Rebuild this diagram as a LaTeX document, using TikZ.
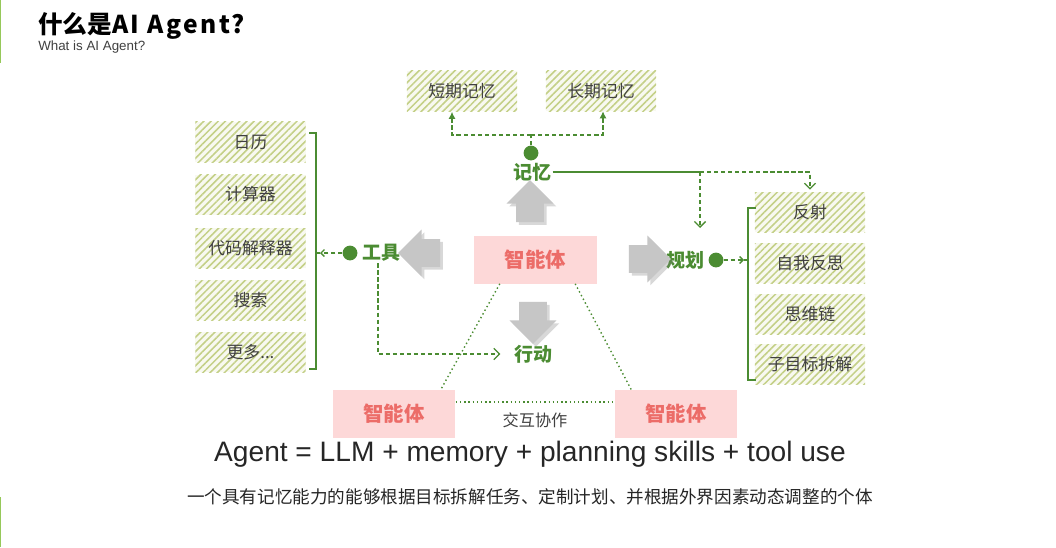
\documentclass[tikz,border=0pt]{standalone}
\usepackage{fontspec}
\setmainfont{Noto Sans CJK SC}
\newfontfamily\latinfont{Liberation Sans}
\usetikzlibrary{shapes.arrows, arrows.meta, positioning, calc, patterns.meta, shadows}
\definecolor{agentgreen}{RGB}{75, 140, 50}
\definecolor{hatchline}{RGB}{196, 208, 135}
\definecolor{hatchbg}{RGB}{248, 249, 240}
\definecolor{agentpink}{RGB}{253, 216, 216}
\definecolor{agentred}{RGB}{236, 108, 104}
\definecolor{arrowgray}{RGB}{198, 198, 198}
\definecolor{textgray}{RGB}{64, 64, 64}
\definecolor{sidebar}{RGB}{150, 200, 90}

\begin{document}
\begin{tikzpicture}[x=0.025cm, y=-0.025cm,
  hatchbox/.style={minimum width=2.75cm, minimum height=1cm, inner sep=0pt,
    preaction={fill=hatchbg}, pattern={Lines[angle=45, distance=3.6pt, line width=1.1pt]},
    pattern color=hatchline, text=textgray, font=\fontsize{12}{14}\selectfont},
  agentbox/.style={fill=agentpink, minimum width=3.07cm, minimum height=1.2cm, inner sep=0pt,
    text=agentred, font=\bfseries\fontsize{14.5}{16}\selectfont},
  greenlabel/.style={text=agentgreen, inner sep=1pt, font=\bfseries\fontsize{13.5}{15}\selectfont},
  gdot/.style={circle, fill=agentgreen, minimum size=0.37cm, inner sep=0pt},
  bigarrow/.style={single arrow, fill=arrowgray, draw=none, inner sep=0.34cm,
    single arrow head extend=0.24cm, minimum height=1.05cm,
    drop shadow={opacity=0.3, shadow xshift=2pt, shadow yshift=-2pt}},
  dashlink/.style={draw=agentgreen, line width=0.9pt, dash pattern=on 3pt off 2pt},
  dotlink/.style={draw=agentgreen, line width=1pt, dotted},
  bracket/.style={draw=agentgreen, line width=1pt},
  barb/.style={-{Straight Barb[length=4pt, width=8pt]}}
]
  \fill[white] (0,0) rectangle (1056,547);
  \useasboundingbox (0,0) rectangle (1056,547);
  \fill[sidebar] (0,0) rectangle (1.5,63);
  \fill[sidebar] (0,497) rectangle (1.5,547);

  % title
  \node[anchor=west, inner sep=0pt, font=\bfseries\fontsize{17.5}{20}\selectfont] (title) at (38,26)
    {什么是{\addfontfeature{LetterSpace=10}AI Agent?}};
  \node[anchor=west, inner sep=0pt, text=textgray, font=\latinfont\fontsize{9.5}{11}\selectfont] (subtitle) at (38,47)
    {What is AI Agent?};

  % agents
  \node[agentbox] (agentC) at (535.5,259.5) {智能体};
  \node[agentbox] (agentL) at (394,414) {智能体};
  \node[agentbox] (agentR) at (676,414) {智能体};

  % memory
  \node[hatchbox] (stm) at (462,91) {短期记忆};
  \node[hatchbox] (ltm) at (601,91) {长期记忆};
  \node[gdot] (dotMem) at (531,153) {};
  \node[greenlabel] (mem) at (532,172) {记忆};

  % tools
  \node[hatchbox] (cal) at (250.5,142) {日历};
  \node[hatchbox] (calcu) at (250.5,194.5) {计算器};
  \node[hatchbox] (interp) at (250.5,248) {代码解释器};
  \node[hatchbox] (search) at (250.5,300) {搜索};
  \node[hatchbox] (more) at (250.5,352) {更多...};
  \node[gdot] (dotTool) at (350,253) {};
  \node[greenlabel, anchor=west] (tool) at (361,253) {工具};

  % planning
  \node[hatchbox] (refl) at (810,212) {反射};
  \node[hatchbox] (selfr) at (810,263) {自我反思};
  \node[hatchbox] (cot) at (810,314) {思维链};
  \node[hatchbox] (subg) at (810,364) {子目标拆解};
  \node[greenlabel, anchor=east] (plan) at (706,260) {规划};
  \node[gdot] (dotPlan) at (716,260) {};

  % action
  \node[greenlabel] (act) at (533,354) {行动};

  % big gray arrows
  \node[bigarrow, shape border rotate=90] (arrUp) at (530,208) {};
  \node[bigarrow, shape border rotate=180] (arrLeft) at (426,253) {};
  \node[bigarrow, shape border rotate=270] (arrDown) at (533,316) {};
  \node[bigarrow] (arrRight) at (643,259) {};

  % brackets
  \draw[bracket] (309,133) -- (316,133) -- (316,369) -- (309,369) (316,253) -- (320,253);
  \coordinate (braceL) at (320,253);
  \draw[bracket] (756,208) -- (748,208) -- (748,380) -- (756,380) (748,260) -- (744,260);
  \coordinate (braceR) at (744,260);
  \draw[dashlink, -{Straight Barb[length=2.5pt, width=5pt]}] (dotTool.west) -- (braceL);
  \draw[dashlink, -{Straight Barb[length=2.5pt, width=5pt]}] (dotPlan.east) -- (braceR);

  % memory links
  \coordinate (memJ) at (531,135);
  \draw[dashlink] (dotMem.north) -- (memJ);
  \draw[dashlink, -{Latex[length=5pt, width=5pt]}] (memJ) -| ($(stm.south)+(-10,0)$);
  \draw[dashlink, -{Latex[length=5pt, width=5pt]}] (memJ) -| ($(ltm.south)+(2,0)$);
  \coordinate (planIn) at (700,228);
  \coordinate (memSplit) at (mem.east -| planIn);
  \draw[draw=agentgreen, line width=0.9pt] (mem.east) -- (memSplit);
  \draw[dashlink, barb] (memSplit) -- (planIn);
  \draw[dashlink, barb] (memSplit) -| ($(refl.north)+(0,-2)$);

  % tool to action
  \draw[dashlink, barb] ($(tool.south west)+(17,0)$) |- ($(act.west)+(-12,0)$);

  % agents interaction
  \draw[dotlink] ($(agentC.south west)+(26,0)$) -- ($(agentL.north east)+(-15,0)$);
  \draw[dotlink] ($(agentC.south east)+(-22,0)$) -- ($(agentR.north west)+(17,0)$);
  \draw[dotlink] ($(agentL.east)+(0,-12)$) -- ($(agentR.west)+(0,-12)$);
  \node[text=textgray, font=\fontsize{11.5}{13}\selectfont] (collab) at (535,420) {交互协作};

  % formula and description
  \node[text=black!85, font=\latinfont\fontsize{20}{24}\selectfont] (formula) at (530,454)
    {Agent = LLM + memory + planning skills + tool use};
  \node[text=black!85, font=\fontsize{12.5}{15}\selectfont] (desc) at (530,497)
    {一个具有记忆能力的能够根据目标拆解任务、定制计划、并根据外界因素动态调整的个体};
\end{tikzpicture}
\end{document}
